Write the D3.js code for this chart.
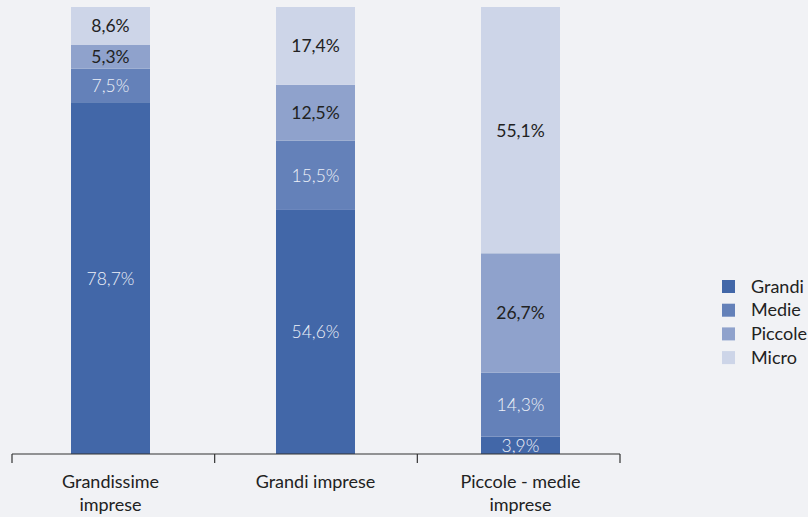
<!DOCTYPE html>
<html><head><meta charset="utf-8">
<script src="https://cdn.jsdelivr.net/npm/d3@7"></script>
<style>
html,body{margin:0;padding:0;background:#f1f2f5;}
svg{display:block;font-family:Lato,"Open Sans",sans-serif;}
</style></head>
<body>
<svg id="chart" width="808" height="517"></svg>
<script>
const categories = [["Grandissime","imprese"],["Grandi imprese"],["Piccole - medie","imprese"]];
const seriesNames = ["Grandi","Medie","Piccole","Micro"];
const grandi  = [78.7, 54.6, 3.9];
const medie   = [7.5, 15.5, 14.3];
const piccole = [5.3, 12.5, 26.7];
const micro   = [8.6, 17.4, 55.1];
const colors = ["#4267a8","#6481b9","#8fa2cc","#cdd5e8"];
const labelColors = ["#eef1f8","#eef1f8","#222222","#222222"];
const labelWeights = [300,300,400,400];

const svg = d3.select("#chart");
const xAxisScale = d3.scaleBand().domain(d3.range(categories.length)).range([12,620]);
const xBar = d3.scaleBand().domain(d3.range(categories.length)).range([8,623]);
const y = d3.scaleLinear().domain([0,100]).range([454,7]);
const barW = 79;

const rows = categories.map((c,i)=>({i, Grandi:grandi[i], Medie:medie[i], Piccole:piccole[i], Micro:micro[i]}));
const stack = d3.stack().keys(seriesNames)(rows);

stack.forEach((layer,k)=>{
  layer.forEach((d,i)=>{
    const cx = xBar(i)+xBar.bandwidth()/2;
    const t = Math.min(d[1],100);
    svg.append("rect").attr("x",cx-barW/2).attr("width",barW)
      .attr("y",y(t)).attr("height",y(d[0])-y(t))
      .attr("fill",colors[k]);
  });
});
stack.forEach((layer,k)=>{
  layer.forEach((d,i)=>{
    const cx = xBar(i)+xBar.bandwidth()/2;
    const v = d.data[seriesNames[k]];
    const t = Math.min(d[1],100);
    svg.append("text").attr("x",cx).attr("y",(y(d[0])+y(t))/2)
      .attr("text-anchor","middle").attr("dominant-baseline","central")
      .attr("font-size",17.5).attr("font-weight",labelWeights[k]).attr("fill",labelColors[k])
      .text(v.toFixed(1).replace(".",",")+"%");
  });
});

// axis
const ax = svg.append("g");
ax.append("line").attr("x1",12).attr("x2",620).attr("y1",454).attr("y2",454).attr("stroke","#333").attr("stroke-width",1.2);
const tickXs = d3.range(categories.length+1).map(i=> i<categories.length ? xAxisScale(i) : xAxisScale(i-1)+xAxisScale.bandwidth());
tickXs.forEach(tx=>{
  ax.append("line").attr("x1",tx).attr("x2",tx).attr("y1",454).attr("y2",463).attr("stroke","#333").attr("stroke-width",1.2);
});
categories.forEach((c,i)=>{
  const cx = xBar(i)+xBar.bandwidth()/2;
  const t = ax.append("text").attr("x",cx).attr("y",488)
    .attr("text-anchor","middle").attr("font-size",18).attr("fill","#222");
  c.forEach((line,j)=>t.append("tspan").attr("x",cx).attr("dy",j?23:0).text(line));
});

// legend
const lg = svg.append("g").attr("transform","translate(722,280)");
seriesNames.forEach((n,k)=>{
  lg.append("rect").attr("x",0).attr("y",k*23.7).attr("width",13).attr("height",13).attr("fill",colors[k]);
  lg.append("text").attr("x",29).attr("y",k*23.7+12.5)
    .attr("font-size",18).attr("fill","#222").text(n);
});
</script>
</body></html>
